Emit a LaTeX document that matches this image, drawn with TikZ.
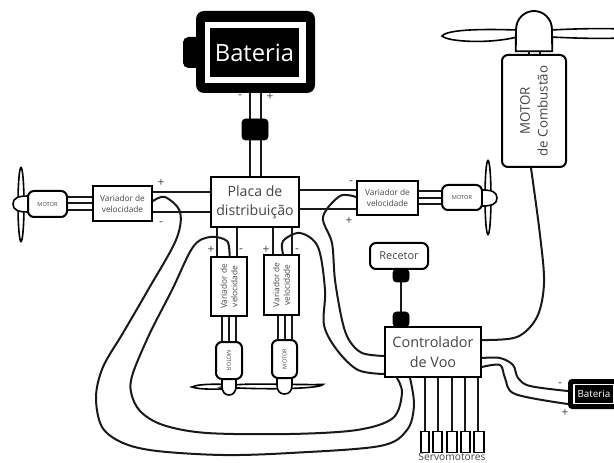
\documentclass[tikz,border=0pt]{standalone}
\usepackage{fontspec}
\setmainfont{Open Sans}
\usetikzlibrary{calc}
\def\u{0.75pt}
\definecolor{txt}{gray}{0.27}
\newcommand{\sz}[2]{\fontsize{#1}{#2}\selectfont}
\tikzset{
  wire/.style={line width=1.5pt,line cap=round,line join=round,black!90},
  boxn/.style={draw=black,line width=1.5pt,fill=white,inner sep=0pt,align=center,text=txt},
  rbox/.style={boxn,rounded corners=4.5pt},
  plug/.style={fill=black,draw=black,rounded corners=2.5pt,inner sep=0pt},
  sign/.style={inner sep=0pt,text=txt,font=\sz{9}{10}},
  esctext/.style={font=\sz{6.2}{8.2}},
  motortext/.style={font=\sz{4.2}{5}},
  blade/.style={draw=black,line width=1.2pt,fill=white},
  smooth wire/.style={wire,smooth,tension=0.55},
}
\begin{document}
\begin{tikzpicture}[x=0.75pt,y=-0.75pt]
\useasboundingbox (0,0) rectangle (614,463);
\fill[white] (0,0) rectangle (614,463);

% boxes
\node[boxn,minimum width=88*\u,minimum height=50*\u,font=\sz{10.6}{14.4}] (placa) at (255,202) {Placa de\\distribuição};
\node[boxn,esctext,minimum width=59*\u,minimum height=35*\u] (escL) at (122.5,203.5) {Variador de\\velocidade};
\node[boxn,esctext,minimum width=61*\u,minimum height=34*\u] (escR) at (387.5,198) {Variador de\\velocidade};
\node[boxn,esctext,minimum width=36*\u,minimum height=59*\u] (escA) at (229,286.5) {\rotatebox{90}{\shortstack{Variador de\\velocidade}}};
\node[boxn,esctext,minimum width=35*\u,minimum height=60*\u] (escB) at (281.5,285) {\rotatebox{90}{\shortstack{Variador de\\velocidade}}};
\node[boxn,font=\sz{10.8}{14.4},minimum width=96*\u,minimum height=50*\u] (ctrl) at (433,352) {Controlador\\de Voo};
\node[rbox,font=\sz{8.2}{10},minimum width=58*\u,minimum height=26*\u] (recetor) at (399,256) {Recetor};

% big battery
\node[fill=black,rounded corners=4pt,inner sep=0pt,minimum width=22*\u,minimum height=31*\u] (bump) at (194,52.5) {};
\node[fill=black,rounded corners=6pt,inner sep=0pt,minimum width=119*\u,minimum height=82*\u] (batt) at (255.5,52) {};
\node[fill=white,inner sep=0pt,minimum width=101*\u,minimum height=61*\u] (battring) at (255.5,52.5) {};
\node[fill=black,text=white,inner sep=0pt,font=\sz{17.8}{20},minimum width=89*\u,minimum height=49*\u] (battin) at (254.5,52.5) {Bateria};

% small battery
\node[fill=black,rounded corners=3pt,inner sep=0pt,minimum width=50*\u,minimum height=30*\u] (bat2) at (593,394) {};
\node[fill=black,draw=white,line width=0.8pt,text=white,inner sep=0pt,font=\sz{7.4}{9},minimum width=40*\u,minimum height=19*\u] (bat2in) at (594,394) {Bateria};

% servo boxes
\node[boxn,minimum width=8*\u,minimum height=21*\u,line width=1.2pt] (s1) at (425,442) {};
\node[boxn,minimum width=9*\u,minimum height=21*\u,line width=1.2pt] (s2) at (437.5,442) {};
\node[boxn,minimum width=10*\u,minimum height=21*\u,line width=1.2pt] (s3) at (452,442) {};
\node[boxn,minimum width=9*\u,minimum height=21*\u,line width=1.2pt] (s4) at (465.5,442) {};
\node[boxn,minimum width=10*\u,minimum height=21*\u,line width=1.2pt] (s5) at (479,442) {};
\node[text=txt,inner sep=0pt,font=\sz{7.7}{9}] (servotxt) at (452,457) {Servomotores};

% servo wires
\foreach \n/\x in {s1/425,s2/438,s3/452,s4/465,s5/478}
  \draw[wire,line cap=butt] (\x,0 |- ctrl.south) -- (\x,0 |- \n.north);

% battery wires and plug
\draw[wire,line cap=butt] (250,0 |- batt.south) -- (250,0 |- placa.north);
\draw[wire,line cap=butt] (261,0 |- batt.south) -- (261,0 |- placa.north);
\node[plug,minimum width=26*\u,minimum height=21*\u] (plugB) at (255,129.5) {};
\node[sign] (bm) at (240,97) {-};
\node[sign] (bp) at (270,97) {+};

% placa to left/right esc
\draw[wire,line cap=butt] (placa.west |- 0,192) -- (escL.east |- 0,192);
\draw[wire,line cap=butt] (placa.west |- 0,212) -- (escL.east |- 0,212);
\draw[wire,line cap=butt] (placa.east |- 0,190) -- (escR.west |- 0,190);
\draw[wire,line cap=butt] (placa.east |- 0,209) -- (escR.west |- 0,209);
\node[sign] (lp) at (161,183) {+};
\node[sign] (lm) at (161,224) {-};
\node[sign] (rm) at (351,183) {-};
\node[sign] (rp) at (349,221) {+};

% placa to vertical esc
\draw[wire,line cap=butt] (217,0 |- placa.south) -- (217,0 |- escA.north);
\draw[wire,line cap=butt] (237,0 |- placa.south) -- (237,0 |- escA.north);
\draw[wire,line cap=butt] (273,0 |- placa.south) -- (273,0 |- escB.north);
\draw[wire,line cap=butt] (292,0 |- placa.south) -- (292,0 |- escB.north);
\node[sign] (ap) at (211,250) {+};
\node[sign] (am) at (241,251) {-};
\node[sign] (bp2) at (266,250) {+};
\node[sign] (bm2) at (297,251) {-};

% motors (horizontal)
\node[rbox,motortext,minimum width=39*\u,minimum height=26*\u] (motL) at (47.5,204) {MOTOR};
\node[rbox,motortext,minimum width=40*\u,minimum height=25*\u] (motR) at (462,197.5) {MOTOR};
\foreach \y in {197,203.5,210} \draw[wire,line cap=butt] (motL.east |- 0,\y) -- (escL.west |- 0,\y);
\foreach \y in {191,198,204} \draw[wire,line cap=butt] (escR.east |- 0,\y) -- (motR.west |- 0,\y);

% propellers
\draw[blade] (21,204.5) ellipse [x radius=3,y radius=37];
\draw[blade] (13,204) .. controls (13,198) and (18,196) .. (28,196) -- (28,212) .. controls (18,212) and (13,210) .. (13,204) -- cycle;
\draw[blade] (488,197.5) ellipse [x radius=3,y radius=37];
\draw[blade] (497,198) .. controls (497,192) and (492,190) .. (482,190) -- (482,206) .. controls (492,206) and (497,204) .. (497,198) -- cycle;
\draw[blade] (192,387) .. controls (200,383) and (225,384) .. (257,386) .. controls (225,390) and (200,390) .. (192,387) -- cycle;
\draw[blade] (222,387) .. controls (240,382) and (280,385) .. (323,384.5) .. controls (320,389) and (260,390) .. (222,387) -- cycle;
\draw[blade] (222,379) -- (222,386) .. controls (222,392) and (225,395) .. (229,395) .. controls (233,395) and (236,392) .. (236,386) -- (236,379) -- cycle;
\draw[blade] (277,378) -- (277,385) .. controls (277,391) and (280,394) .. (284.5,394) .. controls (289,394) and (292,391) .. (292,385) -- (292,378) -- cycle;

% motors (vertical)
\node[rbox,motortext,minimum width=26*\u,minimum height=37*\u] (motA) at (229,360.5) {\rotatebox{-90}{MOTOR}};
\node[rbox,motortext,minimum width=25*\u,minimum height=38*\u] (motB) at (284.5,359) {\rotatebox{90}{MOTOR}};
\foreach \x in {222,229,236} \draw[wire,line cap=butt] (\x,0 |- escA.south) -- (\x,0 |- motA.north);
\foreach \x in {278,285,292} \draw[wire,line cap=butt] (\x,0 |- escB.south) -- (\x,0 |- motB.north);

% combustion motor
\node[rbox,font=\sz{10}{13},minimum width=64*\u,minimum height=112*\u] (comb) at (534,111) {\rotatebox{90}{\shortstack{MOTOR\\[2.5pt]de Combustão}}};
\node[inner sep=0pt,minimum width=36*\u,minimum height=40*\u] (spin) at (534,31) {};
\draw[wire,line width=1.2pt,line cap=butt] (529,0 |- spin.south) -- (529,0 |- comb.north);
\draw[wire,line width=1.2pt,line cap=butt] (540,0 |- spin.south) -- (540,0 |- comb.north);
\draw[blade] (517,30) .. controls (485,29) and (448,29) .. (442,36) .. controls (448,42) and (490,44) .. (517,37) -- cycle;
\draw[blade] (551,30) .. controls (570,29) and (600,28) .. (620,29) -- (620,38) .. controls (600,39) and (570,38) .. (551,37) -- cycle;
\draw[blade,line width=1.4pt] (spin.south west) -- (516,30) .. controls (516,18) and (525,11) .. (534,11) .. controls (543,11) and (552,18) .. (552,30) -- (spin.south east) -- cycle;

% plugs at recetor / controller
\draw[wire,line cap=butt] (recetor.south -| 401,0) -- (ctrl.north -| 401,0);
\node[plug,minimum width=16*\u,minimum height=13*\u] (plugR) at (401,275.5) {};
\node[plug,minimum width=16*\u,minimum height=15*\u] (plugC) at (401,319.5) {};

% curves
\coordinate (c1a) at (escL.east |- 0,201);
\coordinate (cO) at (410,0 |- ctrl.south);
\coordinate (cI) at (397,0 |- ctrl.south);
\draw[smooth wire] plot coordinates {(c1a) (165,197) (180,212) (176,240) (148,290) (123,333) (103,367) (96,397) (102,427) (123,443) (157,451) (223,455) (290,453) (380,446) (407,430) (414,405) (cO)};
\coordinate (cAa) at (229.5,0 |- escA.north);
\draw[smooth wire] plot coordinates {(cAa) (227,241) (210,237) (193,247) (172,290) (150,333) (133,373) (131,392) (140,411) (163,425) (207,433) (290,434) (357,430) (393,418) (402,393) (cI)};
\coordinate (cBa) at (283,0 |- escB.north);
\coordinate (cBz) at (ctrl.west |- 0,374);
\draw[smooth wire] plot coordinates {(cBa) (283,241) (300,233) (318,247) (325,290) (324,325) (337,350) (358,370) (cBz)};
\coordinate (cRa) at (escR.west |- 0,197);
\coordinate (cRz) at (ctrl.west |- 0,356);
\draw[smooth wire] plot coordinates {(cRa) (340,196) (323,217) (332,243) (335,280) (342,320) (349,340) (362,353) (cRz)};
\coordinate (cMa) at (531,0 |- comb.south);
\coordinate (cMz) at (ctrl.east |- 0,340);
\draw[smooth wire] plot coordinates {(cMa) (540,235) (544,283) (537,317) (517,337) (cMz)};
\coordinate (w1a) at (ctrl.east |- 0,358);
\coordinate (w1z) at (bat2.west |- 0,391);
\coordinate (w2a) at (ctrl.east |- 0,367);
\coordinate (w2z) at (bat2.west |- 0,404);
\draw[smooth wire] plot coordinates {(w1a) (500,358) (513,365) (518,378) (530,386) (w1z)};
\draw[smooth wire] plot coordinates {(w2a) (500,365) (505,378) (515,394) (w2z)};
\node[sign] (bat2m) at (560,385) {-};
\node[sign] (bat2p) at (565,413) {+};
\end{tikzpicture}
\end{document}
